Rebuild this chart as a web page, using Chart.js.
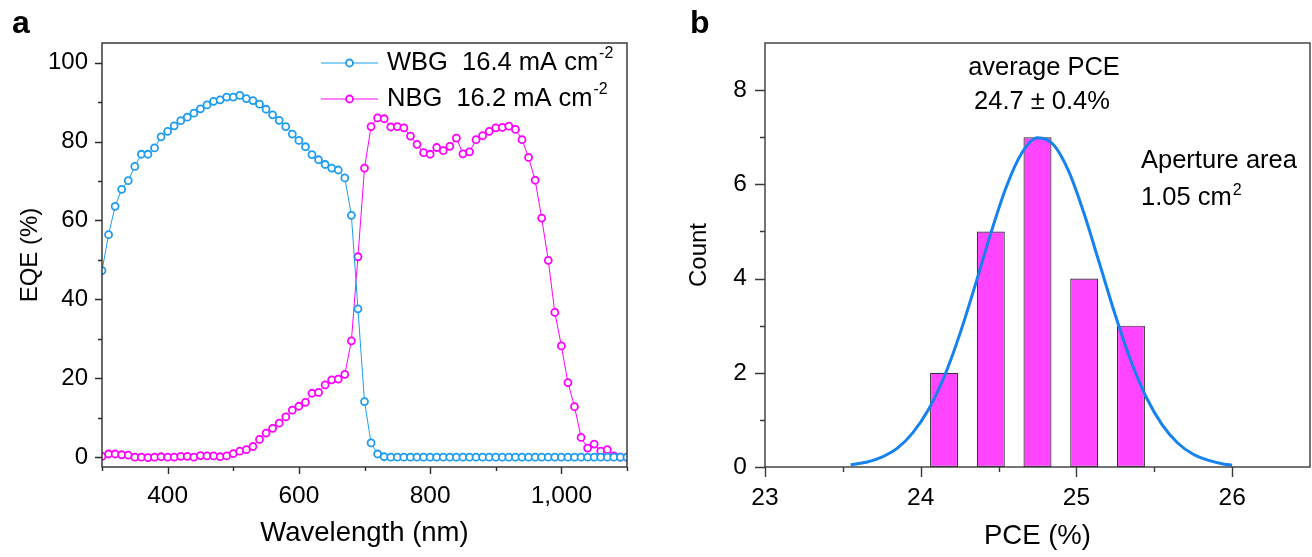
<!DOCTYPE html>
<html>
<head>
<meta charset="utf-8">
<script src="https://cdn.jsdelivr.net/npm/chart.js@4.4.1/dist/chart.umd.min.js"></script>
<style>
  html, body { margin: 0; padding: 0; background: #fff; }
  body { width: 1312px; height: 557px; position: relative; overflow: hidden; }
  .panel { position: absolute; top: 0; width: 656px; height: 557px; }
  #wrapA { left: 0; }
  #wrapB { left: 656px; }
</style>
</head>
<body>
<div class="panel" id="wrapA"><canvas id="eqeChart" width="656" height="557"></canvas></div>
<div class="panel" id="wrapB"><canvas id="pceChart" width="656" height="557"></canvas></div>
<script>
// ── DATA: panel a (EQE) ──────────────────────────
const wavelengths = [
  300, 310, 320, 330, 340, 350, 360, 370, 380, 390,
  400, 410, 420, 430, 440, 450, 460, 470, 480, 490,
  500, 510, 520, 530, 540, 550, 560, 570, 580, 590,
  600, 610, 620, 630, 640, 650, 660, 670, 680, 690,
  700, 710, 720, 730, 740, 750, 760, 770, 780, 790,
  800, 810, 820, 830, 840, 850, 860, 870, 880, 890,
  900, 910, 920, 930, 940, 950, 960, 970, 980, 990,
  1000, 1010, 1020, 1030, 1040, 1050, 1060, 1070, 1080, 1090,
  1100,
];
const eqeWBG = [
  47.3, 56.4, 63.6, 67.9, 70.1, 73.7, 76.8, 76.8, 78.4, 81.2,
  82.6, 84.0, 85.3, 86.2, 87.2, 88.3, 89.3, 90.2, 90.6, 91.3,
  91.3, 91.7, 90.9, 90.4, 89.5, 88.2, 86.8, 85.4, 83.8, 81.9,
  80.3, 78.7, 76.7, 75.4, 74.2, 73.3, 72.8, 70.8, 61.3, 37.6,
  14.1, 3.6, 0.8, 0.1, 0.0, 0.0, 0.0, 0.0, 0.0, 0.0,
  0.0, 0.0, 0.0, 0.0, 0.0, 0.0, 0.0, 0.0, 0.0, 0.0,
  0.0, 0.0, 0.0, 0.0, 0.0, 0.0, 0.0, 0.0, 0.0, 0.0,
  0.0, 0.0, 0.0, 0.0, 0.0, 0.0, 0.0, 0.0, 0.0, 0.0,
  0.0,
];
const eqeNBG = [
  0.2, 0.8, 0.8, 0.6, 0.5, 0.0, 0.0, -0.1, 0.0, 0.1,
  0.0, 0.0, 0.2, 0.2, 0.0, 0.4, 0.3, 0.3, 0.1, 0.3,
  0.9, 1.5, 1.9, 2.7, 4.5, 6.1, 7.3, 8.6, 10.2, 11.9,
  12.9, 13.9, 16.2, 16.4, 18.3, 19.6, 19.8, 21.0, 29.5, 50.8,
  73.3, 83.8, 86.0, 85.8, 83.7, 83.8, 83.5, 81.4, 79.3, 77.2,
  76.8, 78.5, 77.7, 78.8, 80.9, 76.9, 77.4, 80.5, 81.5, 82.6,
  83.5, 83.6, 83.9, 83.1, 80.5, 76.0, 70.2, 60.6, 49.9, 36.7,
  28.2, 18.9, 12.8, 5.0, 2.3, 3.3, 1.5, 1.9, 0.3, 0.0,
  0.0,
];
const seriesNames = ['WBG', 'NBG'];
const seriesJsc   = ['16.4', '16.2'];
const eqeXTicks = [400, 600, 800, 1000];
const eqeXMinor = [300, 500, 700, 900, 1100];
const eqeYTicks = [0, 20, 40, 60, 80, 100];
const eqeYMinor = [10, 30, 50, 70, 90];

// ── DATA: panel b (PCE histogram) ────────────────
const pceBins   = [24.15, 24.45, 24.75, 25.05, 25.35];
const pceCounts = [2, 5, 7, 4, 3];
const pceFitX = [
  23.55, 23.65, 23.75, 23.85, 23.95, 24.05, 24.15, 24.25, 24.35, 24.45,
  24.55, 24.65, 24.75, 24.85, 24.95, 25.05, 25.15, 25.25, 25.35, 25.45,
  25.55, 25.65, 25.75, 25.85, 25.95, 26.0,
];
const pceFitY = [
  0.05, 0.10, 0.21, 0.40, 0.73, 1.22, 1.91, 2.81, 3.86, 4.96,
  5.95, 6.67, 6.99, 6.85, 6.28, 5.37, 4.30, 3.22, 2.25, 1.47,
  0.90, 0.51, 0.27, 0.14, 0.06, 0.04,
];
const pceXTicks = [23, 24, 25, 26];
const pceXMinor = [23.5, 24.5, 25.5];
const pceYTicks = [0, 2, 4, 6, 8];
const pceYMinor = [1, 3, 5, 7];

// ── STYLE ────────────────────────────────────────
const FONT = '"Liberation Sans", Arial, Helvetica, sans-serif';
const AXIS = '#2b2b2b';
const WBG_COLOR = '#1e9cf0';
const NBG_COLOR = '#ff00ff';

// ── PLUGINS ──────────────────────────────────────
const frameTicks = {
  id: 'frameTicks',
  afterDraw(chart, args, o) {
    const { ctx, chartArea: a } = chart;
    const xs = chart.scales.x, ys = chart.scales.y;
    ctx.save();
    ctx.strokeStyle = o.color;
    ctx.lineWidth = o.width;
    ctx.strokeRect(a.left, a.top, a.right - a.left, a.bottom - a.top);
    ctx.beginPath();
    const xt = (vals, len) => vals.forEach(v => {
      const p = Math.round(xs.getPixelForValue(v)) + 0.5;
      ctx.moveTo(p, a.bottom); ctx.lineTo(p, a.bottom + len);
    });
    const yt = (vals, len) => vals.forEach(v => {
      const p = Math.round(ys.getPixelForValue(v)) + 0.5;
      ctx.moveTo(a.left, p); ctx.lineTo(a.left - len, p);
    });
    xt(o.xMajor, o.major); xt(o.xMinor, o.minor);
    yt(o.yMajor, o.major); yt(o.yMinor, o.minor);
    ctx.stroke();
    ctx.restore();
  },
};

const textNotes = {
  id: 'textNotes',
  afterDraw(chart, args, o) {
    const { ctx } = chart;
    ctx.save();
    ctx.fillStyle = '#000';
    ctx.textBaseline = 'alphabetic';
    (o.items || []).forEach(it => {
      ctx.font = `${it.bold ? 'bold ' : ''}${it.size}px ${FONT}`;
      ctx.textAlign = it.align || 'left';
      ctx.fillText(it.text, it.x, it.y);
      if (it.sup) {
        let w = ctx.measureText(it.text).width;
        if (ctx.textAlign === 'center') w = w / 2;
        ctx.font = `${it.supSize}px ${FONT}`;
        ctx.textAlign = 'left';
        ctx.fillText(it.sup, it.x + w + 1, it.y - it.supRise);
      }
    });
    ctx.restore();
  },
};

const eqeLegend = {
  id: 'eqeLegend',
  afterDraw(chart, args, o) {
    const { ctx } = chart;
    ctx.save();
    seriesNames.forEach((name, i) => {
      const y = o.y + i * o.gap;
      const color = chart.data.datasets[i].borderColor;
      ctx.strokeStyle = color;
      ctx.lineWidth = 1;
      ctx.beginPath();
      ctx.moveTo(o.x, y); ctx.lineTo(o.x + o.len, y);
      ctx.stroke();
      ctx.beginPath();
      ctx.arc(o.x + o.len / 2, y, 3.5, 0, Math.PI * 2);
      ctx.fillStyle = '#fff'; ctx.fill();
      ctx.lineWidth = 1.8; ctx.stroke();

      const t = `${name}  ${seriesJsc[i]} mA cm`;
      const tx = o.x + o.len + o.pad;
      ctx.fillStyle = '#000';
      ctx.textAlign = 'left';
      ctx.textBaseline = 'middle';
      ctx.font = `${o.size}px ${FONT}`;
      ctx.fillText(t, tx, y);
      const w = ctx.measureText(t).width;
      ctx.font = `${o.supSize}px ${FONT}`;
      ctx.fillText('-2', tx + w + 1, y - 9);
    });
    ctx.restore();
  },
};

// ── PANEL A: EQE ─────────────────────────────────
function initEqeChart() {
  const ctx = document.getElementById('eqeChart').getContext('2d');
  const toPts = arr => wavelengths.map((w, i) => ({ x: w, y: arr[i] }));
  const lineSet = (label, arr, color) => ({
    label,
    data: toPts(arr),
    borderColor: color,
    borderWidth: 1,
    pointRadius: 3.5,
    pointBorderWidth: 1.8,
    pointBackgroundColor: '#fff',
    pointBorderColor: color,
    tension: 0,
  });

  new Chart(ctx, {
    type: 'line',
    data: {
      datasets: [
        lineSet('WBG', eqeWBG, WBG_COLOR),
        lineSet('NBG', eqeNBG, NBG_COLOR),
      ],
    },
    options: {
      responsive: false,
      animation: false,
      layout: { padding: { top: 43, right: 29, left: 0, bottom: 0 } },
      plugins: {
        legend: { display: false },
        tooltip: { enabled: false },
        frameTicks: {
          color: AXIS, width: 1.4, major: 7, minor: 4,
          xMajor: eqeXTicks, xMinor: eqeXMinor, yMajor: eqeYTicks, yMinor: eqeYMinor,
        },
        eqeLegend: { x: 321, y: 63, gap: 36, len: 57, pad: 9, size: 25.5, supSize: 16 },
        textNotes: { items: [{ text: 'a', x: 12, y: 33, size: 32, bold: true }] },
      },
      scales: {
        x: {
          type: 'linear',
          min: 300, max: 1100,
          afterFit: s => { s.height = 90; },
          afterBuildTicks: s => { s.ticks = eqeXTicks.map(v => ({ value: v })); },
          grid: { display: false, drawTicks: false },
          border: { display: false },
          ticks: {
            padding: 15,
            color: '#000',
            font: { family: FONT, size: 24.5 },
            maxRotation: 0,
            callback: v => v.toLocaleString('en-US'),
          },
          title: {
            display: true, text: 'Wavelength (nm)', color: '#000',
            font: { family: FONT, size: 27.5, lineHeight: 1.2 },
            padding: { top: 0, bottom: 7 },
          },
        },
        y: {
          min: -2.5, max: 105,
          afterFit: s => { s.width = 102; },
          afterBuildTicks: s => { s.ticks = eqeYTicks.map(v => ({ value: v })); },
          grid: { display: false, drawTicks: false },
          border: { display: false },
          ticks: {
            padding: 14,
            color: '#000',
            font: { family: FONT, size: 24 },
          },
          title: {
            display: true, text: 'EQE (%)', color: '#000',
            font: { family: FONT, size: 24, lineHeight: 1.2 },
            padding: { top: 16, bottom: 0 },
          },
        },
      },
    },
    plugins: [frameTicks, eqeLegend, textNotes],
  });
}

// ── PANEL B: PCE HISTOGRAM ───────────────────────
function initPceChart() {
  const ctx = document.getElementById('pceChart').getContext('2d');

  new Chart(ctx, {
    type: 'bar',
    data: {
      datasets: [
        {
          type: 'line',
          data: pceFitX.map((x, i) => ({ x, y: pceFitY[i] })),
          borderColor: '#1582f0',
          borderWidth: 3,
          pointRadius: 0,
          cubicInterpolationMode: 'monotone',
          order: 0,
        },
        {
          type: 'bar',
          data: pceBins.map((x, i) => ({ x, y: pceCounts[i] })),
          backgroundColor: '#ff45ff',
          borderColor: '#333333',
          borderWidth: 1.2,
          borderSkipped: false,
          barPercentage: 0.6,
          categoryPercentage: 1,
          order: 1,
        },
      ],
    },
    options: {
      responsive: false,
      animation: false,
      layout: { padding: { top: 43, right: 2, left: 0, bottom: 0 } },
      plugins: {
        legend: { display: false },
        tooltip: { enabled: false },
        frameTicks: {
          color: '#3a3a3a', width: 1.4, major: 10, minor: 5,
          xMajor: pceXTicks, xMinor: pceXMinor, yMajor: pceYTicks, yMinor: pceYMinor,
        },
        textNotes: {
          items: [
            { text: 'b', x: 34, y: 33, size: 32, bold: true },
            { text: 'average PCE', x: 388, y: 75, size: 25.5, align: 'center' },
            { text: '24.7 \u00b1 0.4%', x: 386, y: 109, size: 25.5, align: 'center' },
            { text: 'Aperture area', x: 485, y: 168, size: 25.5 },
            { text: '1.05 cm', x: 485, y: 205, size: 25.5, sup: '2', supSize: 16, supRise: 10 },
          ],
        },
      },
      scales: {
        x: {
          type: 'linear',
          min: 23, max: 26.5,
          offset: false,
          afterFit: s => { s.height = 90; },
          afterBuildTicks: s => { s.ticks = pceXTicks.map(v => ({ value: v })); },
          grid: { display: false, drawTicks: false },
          border: { display: false },
          ticks: {
            padding: 17,
            color: '#000',
            font: { family: FONT, size: 24.5 },
            maxRotation: 0,
          },
          title: {
            display: true, text: 'PCE (%)', color: '#000',
            font: { family: FONT, size: 27.5, lineHeight: 1.2 },
            padding: { top: 0, bottom: 4 },
          },
        },
        y: {
          min: 0, max: 9,
          afterFit: s => { s.width = 109; },
          afterBuildTicks: s => { s.ticks = pceYTicks.map(v => ({ value: v })); },
          grid: { display: false, drawTicks: false },
          border: { display: false },
          ticks: {
            padding: 18,
            color: '#000',
            font: { family: FONT, size: 24.5 },
          },
          title: {
            display: true, text: 'Count', color: '#000',
            font: { family: FONT, size: 24, lineHeight: 1.2 },
            padding: { top: 29, bottom: 0 },
          },
        },
      },
    },
    plugins: [frameTicks, textNotes],
  });
}

// ── INIT ─────────────────────────────────────────
initEqeChart();
initPceChart();
</script>
</body>
</html>
